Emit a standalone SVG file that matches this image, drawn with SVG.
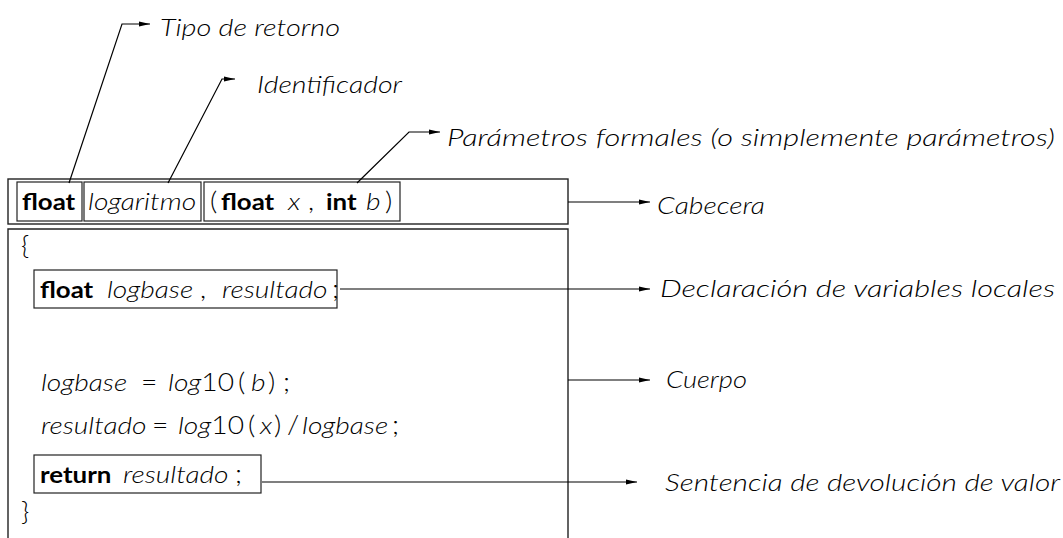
<svg xmlns="http://www.w3.org/2000/svg" width="1063" height="538" viewBox="0 0 1063 538">
<style>
text{font-family:Lato,"Open Sans","DejaVu Sans",sans-serif;fill:#000}
.lbl{font-size:24px;font-style:italic;font-weight:300}
.code{font-size:24.5px;font-weight:300}
.i{font-style:italic;font-weight:300}
.b{font-weight:bold;font-size:22.5px}
.box{fill:none;stroke:#222;stroke-width:1.4}
.ibox{fill:none;stroke:#222;stroke-width:1.2}
.con{fill:none;stroke:#000;stroke-width:1.2}
</style>
<defs>
<marker id="ah" markerWidth="12" markerHeight="8" refX="11" refY="4" orient="auto" markerUnits="userSpaceOnUse">
<path d="M0,1.5 L11,4 L0,6.5 Z" fill="#000"/>
</marker>
</defs>
<g id="cabecera">
<rect class="box" x="8" y="179" width="560" height="45"/>
<g id="tipo">
<rect class="ibox" x="17" y="182" width="65" height="39"/>
<text class="code b" x="19.13" y="210" transform="scale(1.15 1)">float</text>
</g>
<g id="identificador">
<rect class="ibox" x="84" y="182" width="117" height="39"/>
<text class="code i" x="76.52" y="210" transform="scale(1.15 1)">logaritmo</text>
</g>
<g id="parametros">
<rect class="ibox" x="204" y="182" width="196" height="39"/>
<text class="code" y="210" transform="scale(1.15 1)"><tspan x="182.61">(</tspan><tspan class="b" x="192.17">float</tspan><tspan class="i" x="250.43">x</tspan><tspan x="267.83">,</tspan><tspan class="b" x="283.48">int</tspan><tspan class="i" x="318.26">b</tspan><tspan x="334.78">)</tspan></text>
</g>
</g>
<g id="cuerpo">
<path class="box" d="M8,538 V229 H568 V538"/>
<text class="code" x="18.26" y="255" transform="scale(1.15 1)">{</text>
<g id="declaracion">
<rect class="ibox" x="34" y="270" width="303" height="38"/>
<text class="code" y="298" transform="scale(1.15 1)"><tspan class="b" x="34.78">float</tspan><tspan class="i" x="93.04">logbase</tspan><tspan x="173.91">,</tspan><tspan class="i" x="193.04">resultado</tspan><tspan x="288.7">;</tspan></text>
</g>
<text class="code" y="391" transform="scale(1.15 1)"><tspan class="i" x="35.65">logbase</tspan><tspan x="122.61">=</tspan><tspan class="i" x="146.09">log</tspan><tspan>10</tspan><tspan x="206.96">(</tspan><tspan class="i" x="218.26">b</tspan><tspan x="233.04">)</tspan><tspan x="246.09">;</tspan></text>
<text class="code" y="434" transform="scale(1.15 1)"><tspan class="i" x="35.65">resultado</tspan><tspan x="132.17">=</tspan><tspan class="i" x="154.78">log</tspan><tspan>10</tspan><tspan x="215.65">(</tspan><tspan class="i" x="226.09">x</tspan><tspan x="238.26">)</tspan><tspan x="249.57">/</tspan><tspan class="i" x="262.61">logbase</tspan><tspan x="340.87">;</tspan></text>
<g id="sentencia">
<rect class="ibox" x="34" y="455" width="227" height="38"/>
<text class="code" y="483" transform="scale(1.15 1)"><tspan class="b" x="34.78">return</tspan><tspan class="i" x="106.96">resultado</tspan><tspan x="204.35">;</tspan></text>
</g>
<text class="code" x="18.26" y="521" transform="scale(1.15 1)">}</text>
</g>
<g id="labels">
<text class="lbl" x="160" y="36" textLength="180" lengthAdjust="spacingAndGlyphs">Tipo de retorno</text>
<text class="lbl" x="257" y="93" textLength="145" lengthAdjust="spacingAndGlyphs">Identificador</text>
<text class="lbl" x="447" y="146" textLength="608" lengthAdjust="spacingAndGlyphs">Parámetros formales (o simplemente parámetros)</text>
<text class="lbl" x="657" y="214" textLength="108" lengthAdjust="spacingAndGlyphs">Cabecera</text>
<text class="lbl" x="660" y="297" textLength="395" lengthAdjust="spacingAndGlyphs">Declaración de variables locales</text>
<text class="lbl" x="666" y="388" textLength="81" lengthAdjust="spacingAndGlyphs">Cuerpo</text>
<text class="lbl" x="665" y="491" textLength="395" lengthAdjust="spacingAndGlyphs">Sentencia de devolución de valor</text>
</g>
<g id="connectors">
<polyline class="con" points="69,183 122,24 150,24" marker-end="url(#ah)"/>
<polyline class="con" points="168,183 222,79 235,79" marker-end="url(#ah)"/>
<polyline class="con" points="357,183 409,132 440,132" marker-end="url(#ah)"/>
<line class="con" x1="568" y1="202" x2="650" y2="202" marker-end="url(#ah)"/>
<line class="con" x1="340" y1="289" x2="650" y2="289" marker-end="url(#ah)"/>
<line class="con" x1="568" y1="380" x2="650" y2="380" marker-end="url(#ah)"/>
<line class="con" x1="262" y1="482" x2="637" y2="482" marker-end="url(#ah)"/>
</g>
</svg>
